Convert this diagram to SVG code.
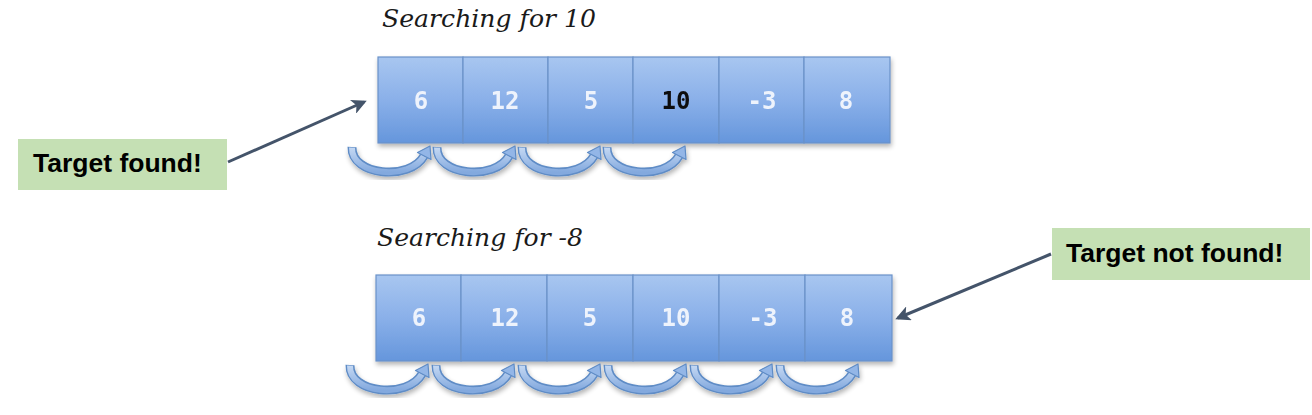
<svg xmlns="http://www.w3.org/2000/svg" xmlns:xlink="http://www.w3.org/1999/xlink" width="1312" height="415" viewBox="0 0 1312 415">
<defs>
  <linearGradient id="cellGrad" x1="0" y1="0" x2="0" y2="1">
    <stop offset="0" stop-color="#a8c6f0"/>
    <stop offset="0.5" stop-color="#8ab0e9"/>
    <stop offset="1" stop-color="#6596dc"/>
  </linearGradient>
  <linearGradient id="arcGrad" x1="0" y1="0" x2="0" y2="1">
    <stop offset="0" stop-color="#c4d8f3"/>
    <stop offset="1" stop-color="#83a9de"/>
  </linearGradient>
  <filter id="shadow" x="-10%" y="-20%" width="120%" height="150%">
    <feGaussianBlur in="SourceAlpha" stdDeviation="2.5"/>
    <feOffset dx="1" dy="3" result="b"/>
    <feComponentTransfer><feFuncA type="linear" slope="0.3"/></feComponentTransfer>
    <feMerge><feMergeNode/><feMergeNode in="SourceGraphic"/></feMerge>
  </filter>
  <marker id="arrowHead" viewBox="0 0 10 10" refX="8" refY="5" markerWidth="5" markerHeight="5" orient="auto" markerUnits="strokeWidth">
    <path d="M0,0 L10,5 L0,10 L2.5,5 Z" fill="#44546a"/>
  </marker>
  <g id="arc">
    <path d="M4,0 C3,29 62,34 76,9" fill="none" stroke="#5f8cc6" stroke-width="9" stroke-linecap="butt"/>
    <path d="M4,0.6 C3,29 62,34 76,9" fill="none" stroke="url(#arcGrad)" stroke-width="6" stroke-linecap="butt"/>
    <polygon points="82,-1 83,12.5 69.5,5.5" fill="#93b6e7" stroke="#5f8cc6" stroke-width="1.2" stroke-linejoin="round"/>
  </g>
  <style>
    .cell { fill: url(#cellGrad); stroke: #6a92c9; stroke-width: 1.2; }
    .num { font-family: "DejaVu Sans Mono", "Liberation Mono", monospace; font-weight: bold; font-size: 24px; fill: #eef3fc; text-anchor: middle; }
    .num.hit { fill: #111111; }
    .title { font-family: "DejaVu Serif", "Liberation Serif", serif; font-style: italic; font-size: 24px; fill: #1a1a1a; }
    .tag { fill: #c5e0b4; }
    .tagText { font-family: "Liberation Sans", Arial, sans-serif; font-weight: bold; font-size: 26.5px; fill: #000000; }
    .conn { stroke: #44546a; stroke-width: 3; fill: none; }
  </style>
</defs>
<rect width="1312" height="415" fill="#ffffff"/>

<text class="title" x="382" y="27" textLength="214" lengthAdjust="spacingAndGlyphs">Searching for 10</text>
<text class="title" x="377" y="246" textLength="206" lengthAdjust="spacingAndGlyphs">Searching for -8</text>

<g id="row1" filter="url(#shadow)">
  <g id="r1c1"><rect class="cell" x="378" y="57" width="85" height="86"/><text class="num" x="421" y="109">6</text></g>
  <g id="r1c2"><rect class="cell" x="463" y="57" width="85" height="86"/><text class="num" x="505" y="109">12</text></g>
  <g id="r1c3"><rect class="cell" x="548" y="57" width="85" height="86"/><text class="num" x="591" y="109">5</text></g>
  <g id="r1c4"><rect class="cell" x="633" y="57" width="86" height="86"/><text class="num hit" x="676" y="109">10</text></g>
  <g id="r1c5"><rect class="cell" x="719" y="57" width="85" height="86"/><text class="num" x="762" y="109">-3</text></g>
  <g id="r1c6"><rect class="cell" x="804" y="57" width="86" height="86"/><text class="num" x="846" y="109">8</text></g>
</g>

<g id="row2" filter="url(#shadow)">
  <g id="r2c1"><rect class="cell" x="376" y="275" width="85" height="86"/><text class="num" x="419" y="326">6</text></g>
  <g id="r2c2"><rect class="cell" x="461" y="275" width="86" height="86"/><text class="num" x="505" y="326">12</text></g>
  <g id="r2c3"><rect class="cell" x="547" y="275" width="86" height="86"/><text class="num" x="590" y="326">5</text></g>
  <g id="r2c4"><rect class="cell" x="633" y="275" width="86" height="86"/><text class="num" x="676" y="326">10</text></g>
  <g id="r2c5"><rect class="cell" x="719" y="275" width="86" height="86"/><text class="num" x="763" y="326">-3</text></g>
  <g id="r2c6"><rect class="cell" x="805" y="275" width="87" height="86"/><text class="num" x="847" y="326">8</text></g>
</g>

<g id="arcs1" filter="url(#shadow)">
  <use xlink:href="#arc" href="#arc" transform="translate(348,147)"/>
  <use xlink:href="#arc" href="#arc" transform="translate(433,147)"/>
  <use xlink:href="#arc" href="#arc" transform="translate(518,147)"/>
  <use xlink:href="#arc" href="#arc" transform="translate(603,147)"/>
</g>
<g id="arcs2" filter="url(#shadow)">
  <use xlink:href="#arc" href="#arc" transform="translate(346,365)"/>
  <use xlink:href="#arc" href="#arc" transform="translate(432,365)"/>
  <use xlink:href="#arc" href="#arc" transform="translate(518,365)"/>
  <use xlink:href="#arc" href="#arc" transform="translate(604,365)"/>
  <use xlink:href="#arc" href="#arc" transform="translate(690,365)"/>
  <use xlink:href="#arc" href="#arc" transform="translate(776,365)"/>
</g>

<g id="found">
  <rect class="tag" x="18" y="139" width="209" height="51"/>
  <text class="tagText" x="33" y="172">Target found!</text>
</g>
<g id="notFound">
  <rect class="tag" x="1052" y="228" width="258" height="52"/>
  <text class="tagText" x="1066" y="262">Target not found!</text>
</g>

<g id="connectors">
  <line class="conn" x1="228" y1="162" x2="364" y2="102" marker-end="url(#arrowHead)"/>
  <line class="conn" x1="1051" y1="254" x2="898" y2="318" marker-end="url(#arrowHead)"/>
</g>
</svg>
